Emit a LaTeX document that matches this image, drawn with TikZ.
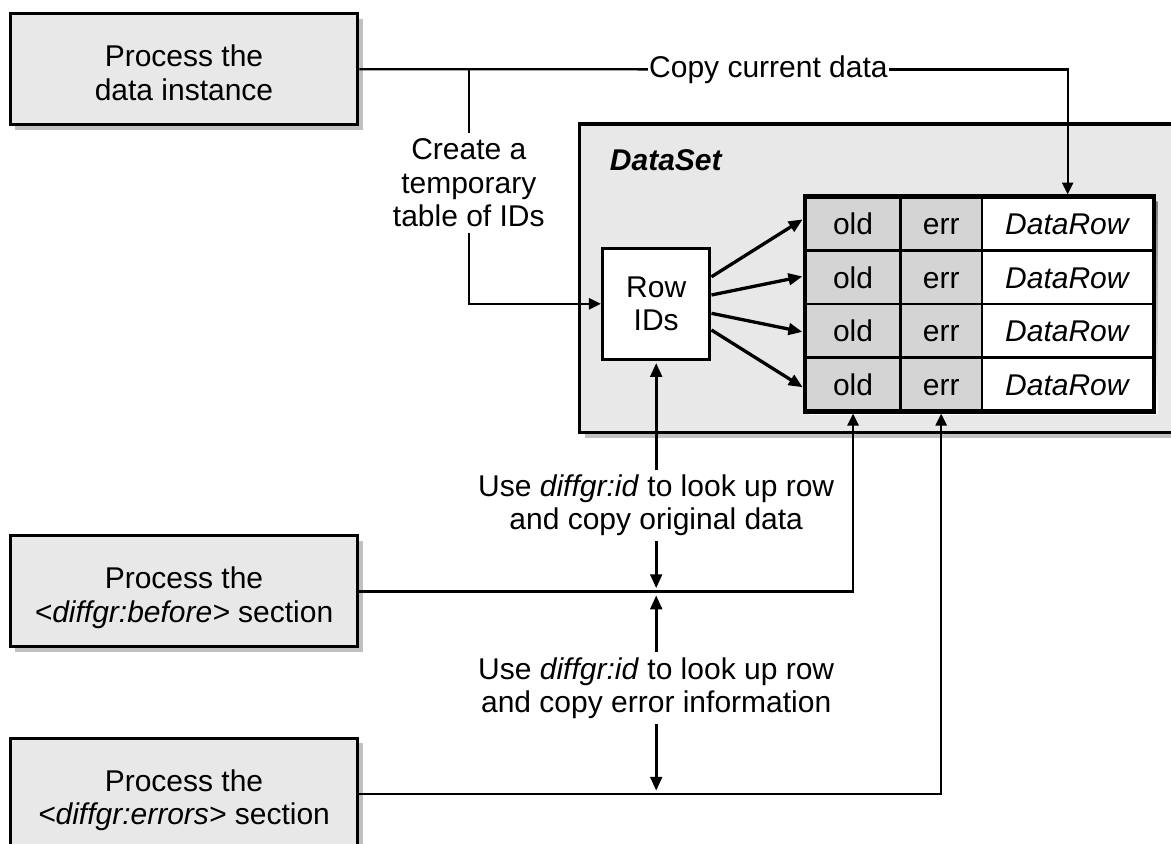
\documentclass[tikz,border=0pt]{standalone}
\usepackage{fontspec}
\setmainfont{Liberation Sans}
\usetikzlibrary{arrows.meta,shadows}
\definecolor{boxfill}{RGB}{232,232,232}
\definecolor{cellgray}{RGB}{212,212,212}
\definecolor{shade}{RGB}{192,192,192}
\tikzset{
  lbl/.style={font=\fontsize{30}{33.4}\selectfont, align=center},
  boxshadow/.style={drop shadow={shadow xshift=5pt, shadow yshift=-5pt, fill=shade, opacity=1}},
  procbox/.style={lbl, draw, line width=3.2pt, fill=boxfill, minimum width=347.5pt,
    minimum height=111pt, inner sep=0pt, text height=61.6pt, text depth=0pt, boxshadow},
  cell/.style={draw, line width=2.6pt, inner sep=0pt, minimum height=53.35pt,
    text height=22pt, text depth=0pt, font=\fontsize{30}{33.4}\selectfont},
  conn/.style={line width=2.4pt},
  heavy/.style={line width=3.3pt},
  arrowed/.style={-{Triangle[length=12pt,width=11pt]}},
  bigarrow/.style={-{Triangle[length=14pt,width=11.5pt]}},
}
\begin{document}
\begin{tikzpicture}[x=1pt,y=-1pt]
\useasboundingbox[fill=white] (0,0) rectangle (1171,844);

% process boxes on the left
\node[procbox] (box1) at (184,69.2) {Process the\\data instance};
\node[procbox] (box2) at (184,591.3) {Process the\\\textit{<diffgr:before>} section};
\node[procbox] (box3) at (184,793.8) {Process the\\\textit{<diffgr:errors>} section};

% the DataSet container
\node[draw, line width=3.2pt, fill=boxfill, minimum width=620pt, minimum height=308.7pt,
      inner sep=0pt, boxshadow] (dataset) at (889.6,278.35) {};
\node[anchor=base west, font=\fontsize{30}{33.4}\selectfont\bfseries\itshape]
      (dslabel) at (606.4,170.7) {DataSet};

% table of rows
\fill[shade] (809.7,201.3) rectangle (1157.4,414.7);
\foreach \i/\y in {1/223.98,2/277.33,3/330.68,4/384.03}{
  \node[cell, fill=cellgray, minimum width=94.7pt] (o\i) at (853.05,\y) {old};
  \node[cell, fill=cellgray, minimum width=81.6pt] (e\i) at (941.2,\y) {err};
  \node[cell, fill=white, minimum width=171.4pt] (d\i) at (1067.7,\y) {\textit{DataRow}};
}
\draw[line width=3.4pt] (o1.north west) rectangle (d4.south east);

% row id table
\node[lbl, draw, line width=3.2pt, fill=white, minimum width=107.3pt, minimum height=111pt,
      inner sep=0pt] (rowids) at (656.2,303.8) {Row\\IDs};

\draw[heavy, bigarrow, shorten >=2pt] ([yshift=27pt]rowids.east) -- ([yshift=5.7pt]o1.west);
\draw[heavy, bigarrow, shorten >=2pt] ([yshift=8.8pt]rowids.east) -- ([yshift=1.3pt]o2.west);
\draw[heavy, bigarrow, shorten >=2pt] ([yshift=-9.5pt]rowids.east) -- ([yshift=-1.6pt]o3.west);
\draw[heavy, bigarrow, shorten >=2pt] ([yshift=-26.2pt]rowids.east) -- ([yshift=-4.3pt]o4.west);

% current data path
\node[lbl, fill=white, inner xsep=1pt, inner ysep=0pt] (copy) at (768.4,69.3) {Copy current data};
\draw[conn] (box1.east) -- (copy.west);
\draw[conn, arrowed, shorten >=1.5pt] (copy.east) -| (d1.north);

% temporary id table path
\coordinate (split) at (468.8,69.2);
\node[lbl, inner xsep=0pt, inner ysep=5.5pt] (create) at (468.8,182.8) {Create a\\temporary\\table of IDs};
\draw[conn] (split) -- (create.north);
\draw[conn, arrowed] (create.south) |- (rowids.west);

% lookups by diffgr:id
\node[lbl, inner sep=5pt] (use1) at (656.2,505.5) {Use \textit{diffgr:id} to look up row\\and copy original data};
\node[lbl, inner sep=5pt] (use2) at (656.2,688) {Use \textit{diffgr:id} to look up row\\and copy error information};
\coordinate (j1) at (rowids.south |- box2.east);
\coordinate (j2) at (rowids.south |- box3.east);
\draw[heavy, bigarrow, shorten >=2pt] (use1.north) -- (rowids.south);
\draw[heavy, bigarrow, shorten >=3pt] (use1.south) -- (j1);
\draw[heavy, bigarrow, shorten >=4pt] (use2.north) -- (j1);
\draw[heavy, bigarrow, shorten >=3pt] (use2.south) -- (j2);
\draw[conn, arrowed, shorten >=1.5pt] (box2.east) -| (o4.south);
\draw[conn, arrowed, shorten >=1.5pt] (box3.east) -| (e4.south);
\end{tikzpicture}
\end{document}
